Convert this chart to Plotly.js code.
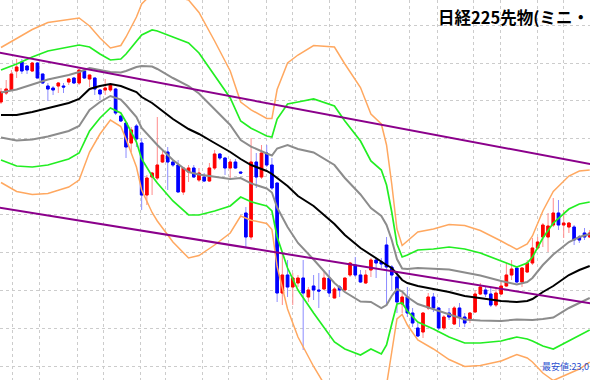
<!DOCTYPE html>
<html><head><meta charset="utf-8">
<script src="https://cdn.plot.ly/plotly-3.0.1.min.js"></script>
<style>html,body{margin:0;padding:0;background:#fff;overflow:hidden}#chart{width:590px;height:380px}</style>
</head><body><div id="chart"></div>
<script>
// Candle data (price), one entry per bar, index 0..113
const openP = [
23298,23307,23310,23329,23338,23334,23329,23337,23326,23314,
23312,23314,23314,23318,23322,23317,23329,23321,23322,23310,
23310,23310,23311,23284,23277,23257,23274,23257,23205,23223,
23222,23238,23248,23238,23235,23208,23228,23232,23220,23223,
23219,23232,23246,23242,23232,23238,23228,23187,23163,23238,
23223,23247,23235,23217,23107,23125,23113,23117,23122,23103,
23114,23110,23111,23122,23102,23113,23110,23125,23135,23125,
23117,23130,23140,23138,23155,23133,23123,23096,23103,23087,
23072,23068,23092,23103,23092,23072,23087,23076,23092,23083,
23080,23088,23106,23110,23106,23095,23106,23114,23125,23132,
23118,23128,23137,23152,23163,23163,23175,23187,23175,23173,
23173,23163,23167,23163];
const highP = [
23312,23320,23330,23341,23341,23335,23338,23338,23326,23317,
23314,23318,23317,23322,23323,23330,23330,23325,23322,23311,
23321,23317,23312,23285,23278,23273,23276,23262,23225,23228,
23283,23250,23253,23240,23240,23233,23235,23235,23232,23227,
23237,23250,23247,23243,23241,23241,23228,23193,23262,23247,
23255,23255,23242,23217,23147,23140,23127,23125,23140,23113,
23125,23127,23128,23130,23113,23115,23122,23138,23143,23130,
23130,23142,23142,23142,23163,23135,23125,23107,23113,23092,
23077,23088,23107,23107,23093,23085,23092,23094,23097,23087,
23088,23110,23117,23113,23112,23113,23120,23137,23140,23133,
23133,23140,23162,23163,23177,23187,23202,23200,23190,23178,
23175,23165,23172,23170];
const lowP = [
23296,23305,23310,23322,23326,23326,23328,23322,23316,23299,
23305,23307,23307,23315,23316,23315,23321,23313,23305,23300,
23305,23308,23285,23278,23242,23248,23253,23190,23195,23205,
23220,23237,23210,23233,23208,23205,23218,23222,23218,23218,
23218,23230,23240,23225,23222,23231,23226,23153,23160,23212,
23221,23233,23210,23098,23095,23103,23095,23113,23050,23098,
23100,23092,23110,23103,23102,23103,23109,23123,23123,23117,
23116,23123,23122,23132,23095,23110,23087,23087,23083,23073,
23063,23062,23090,23088,23070,23070,23080,23075,23073,23073,
23077,23087,23105,23103,23093,23093,23105,23113,23120,23117,
23113,23127,23135,23150,23153,23148,23173,23170,23162,23167,
23155,23157,23160,23162];
const closeP = [
23308,23311,23326,23333,23329,23330,23337,23322,23317,23311,
23310,23317,23313,23321,23317,23330,23322,23325,23311,23306,
23312,23315,23287,23279,23253,23270,23261,23205,23222,23227,
23235,23245,23238,23235,23208,23232,23232,23223,23227,23219,
23232,23246,23242,23232,23238,23232,23227,23163,23238,23223,
23247,23235,23212,23107,23125,23113,23122,23122,23107,23110,
23110,23109,23122,23107,23111,23110,23122,23137,23125,23118,
23125,23140,23137,23136,23133,23125,23098,23103,23087,23077,
23064,23087,23103,23092,23072,23083,23083,23092,23083,23077,
23087,23106,23113,23106,23095,23107,23114,23125,23131,23118,
23132,23137,23152,23158,23175,23174,23187,23175,23177,23177,
23160,23160,23163,23167];

// Bollinger centre line and standard deviation read at these bars
const bandIdx = [0,3,6,9,13,15,17,19,21,23,24,26,27,29,30,33,36,38,41,44,46,48,51,52,53,55,57,60,64,66,69,71,73,74,75,76,77,78,80,83,86,89,92,96,99,101,102,104,106,109,111,113];
const maVal = [23285,23285,23288,23292,23297,23301,23311,23314,23316,23314,23312,23308,23303,23297,23293,23281,23271,23266,23257,23248,23241,23235,23229,23226,23222,23214,23204,23194,23176,23165,23152,23145,23138,23135,23132,23126,23120,23117,23114,23111,23108,23104,23102,23099,23098,23099,23101,23108,23114,23125,23130,23134];
const sdVal = [22.5,25.5,27.5,28.5,28,27,21,16,12,13.5,17,25,31,36.5,38,41,43,40.5,34,27,19,18.4,17.5,18.5,29.5,41,47,53.5,59,57,53.5,47,46,40,28,15,11.5,14,18,20,22.5,23.5,22.5,20,17.5,19,21,27,31.5,33,33,32];

// Trend channel lines (end points)
const trendIdx = [-1, 114];
const trendUpper = [23348, 23235];
const trendLower = [23193, 23096];

// Grid positions
const gridIdx = [2.3,7.3,14.6,19.6,26.7,31.5,38.6,43.6,50.9,55.9,63,68,78.5,83.7,90.6,95.8,102.9,107.9];
const gridPrice = [23034,23072,23110,23148,23186,23224,23262,23300,23337,23375];

const titleText = '日経225先物(ミニ・';
const lowText = '最安値:23,0';

const idx = openP.map((_, i) => i);
const bodyHigh = openP.map((o, i) => Math.max(o, closeP[i]));
const bodyLow = openP.map((o, i) => Math.min(o, closeP[i]));

function band(k) { return maVal.map((m, i) => m + k * sdVal[i]); }

const traces = [
  {type:'candlestick', x:idx, open:openP, high:highP, low:lowP, close:closeP,
   increasing:{line:{color:'#ff8c8c', width:1}, fillcolor:'#ff8c8c'},
   decreasing:{line:{color:'#8c8cff', width:1}, fillcolor:'#8c8cff'},
   whiskerwidth:0, hoverinfo:'skip'},
  {type:'candlestick', x:idx, open:openP, high:bodyHigh, low:bodyLow, close:closeP,
   increasing:{line:{color:'#ff0000', width:1}, fillcolor:'#ff0000'},
   decreasing:{line:{color:'#0000ff', width:1}, fillcolor:'#0000ff'},
   whiskerwidth:0, hoverinfo:'skip'},
  {type:'scatter', mode:'lines', x:bandIdx, y:band(3), line:{color:'#ffa860', width:1.5}},
  {type:'scatter', mode:'lines', x:bandIdx, y:band(-3), line:{color:'#ffa860', width:1.5}},
  {type:'scatter', mode:'lines', x:bandIdx, y:band(2), line:{color:'#22ee22', width:1.7}},
  {type:'scatter', mode:'lines', x:bandIdx, y:band(-2), line:{color:'#22ee22', width:1.7}},
  {type:'scatter', mode:'lines', x:bandIdx, y:band(1), line:{color:'#8c8c8c', width:2}},
  {type:'scatter', mode:'lines', x:bandIdx, y:band(-1), line:{color:'#8c8c8c', width:2}},
  {type:'scatter', mode:'lines', x:bandIdx, y:maVal, line:{color:'#000000', width:2}},
  {type:'scatter', mode:'lines', x:trendIdx, y:trendUpper, line:{color:'#8b008b', width:2}},
  {type:'scatter', mode:'lines', x:trendIdx, y:trendLower, line:{color:'#8b008b', width:2}}
];

const layout = {
  width:590, height:380, margin:{l:0, r:0, t:0, b:0},
  paper_bgcolor:'#ffffff', plot_bgcolor:'#ffffff', showlegend:false,
  boxgap:0.3,
  xaxis:{range:[-0.19, 113.05], tickvals:gridIdx, showticklabels:false, ticks:'',
         showgrid:true, gridcolor:'#cccccc', griddash:'3px,3px', gridwidth:1,
         zeroline:false, showline:false, rangeslider:{visible:false}, fixedrange:true},
  yaxis:{range:[23020, 23400], tickvals:gridPrice, showticklabels:false, ticks:'',
         showgrid:true, gridcolor:'#cccccc', griddash:'3px,3px', gridwidth:1,
         zeroline:false, showline:false, fixedrange:true},
  annotations:[
    {xref:'paper', yref:'paper', x:1, y:1-17/380, xanchor:'right', yanchor:'middle',
     text:'<b>'+titleText+'</b>', showarrow:false, borderpad:0,
     font:{family:'Noto Sans CJK JP', size:16.5, color:'#000000'}},
    {xref:'paper', yref:'paper', x:1, y:1-366/380, xanchor:'right', yanchor:'middle',
     text:lowText, showarrow:false, borderpad:0,
     font:{family:'Noto Sans CJK JP', size:9, color:'#2a4fd0'}}
  ]
};

Plotly.newPlot('chart', traces, layout, {staticPlot:true, displayModeBar:false});
</script>
</body></html>
